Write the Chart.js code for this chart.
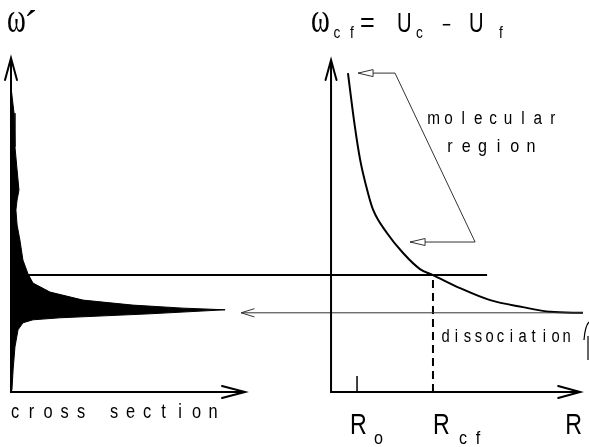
<!DOCTYPE html>
<html>
<head>
<meta charset="utf-8">
<script src="https://cdn.jsdelivr.net/npm/chart.js@4/dist/chart.umd.min.js"></script>
<style>
body { margin: 0; background: #fff; }
canvas { display: block; }
</style>
</head>
<body>
<canvas id="graphe" width="589" height="447"></canvas>
<script>
// ****************** donnees lues sur la figure ******************
// panneau gauche : section efficace en fonction de omega'
var sectionEfficace = [0, 0.13, 0.17, 0.26, 0.34, 0.26, 0.21, 0.26, 0.38, 0.51, 0.73, 0.94, 1.67, 3.08, 5.21, 7.35, 9.15, 5.94, 2.09, 0.94, 0.51, 0.30, 0.17, 0.09, 0.04, 0];
var omegaProfil     = [9.13, 8.35, 7.34, 6.65, 6.05, 5.75, 5.45, 5.00, 4.55, 3.95, 3.53, 3.26, 2.99, 2.75, 2.60, 2.51, 2.46, 2.34, 2.22, 2.16, 2.07, 1.86, 1.35, 0.66, 0.06, 0];

// panneau droit : omega_cf = U_c - U_f en fonction de R
var courbeR     = [0.65, 0.92, 1.12, 1.42, 1.62, 2.15, 2.77, 3.42, 3.92, 4.96, 6.12, 7.38, 8.42, 9.69];
var courbeOmega = [9.55, 7.93, 6.95, 5.96, 5.45, 4.76, 4.16, 3.68, 3.50, 3.11, 2.75, 2.54, 2.40, 2.37];

// niveaux horizontaux
var omegaNiveau = 3.50;
var niveauR = [-12.31, 6.0];
var omegaDissociation = 2.37;
var dissociationR = [-3.46, 9.69];

// graduations de l'axe R
var rTicks = [1, 3.92];
var rTickLabels = ["R", "R"];
var rTickSubs = ["o", "c f"];
var rAxisLabel = "R";

// etendue des axes
var axeSectionMax = 10;
var axeGaucheOmegaMax = 10;
var axeDroitOmegaMax = 9.94;
var axeRMax = 9.58;
var hauteurTickRo = 0.48;

// fleches de la region moleculaire
var annotR = [1.04, 2.46, 5.54, 3.04];
var annotOmega = [9.55, 9.55, 4.49, 4.49];

function points(xs, ys) {
    return xs.map(function (x, i) { return { x: x, y: ys[i] }; });
}

// ****************** petites fonctions de dessin ******************
function fleche(ctx, x, y, dx, dy, longueur, demi) {
    var bx = x - dx * longueur, by = y - dy * longueur;
    ctx.beginPath();
    ctx.moveTo(bx - dy * demi, by + dx * demi);
    ctx.lineTo(x, y);
    ctx.lineTo(bx + dy * demi, by - dx * demi);
    ctx.stroke();
}

function triangle(ctx, x, y, dx, dy, longueur, demi) {
    var bx = x - dx * longueur, by = y - dy * longueur;
    ctx.beginPath();
    ctx.moveTo(x, y);
    ctx.lineTo(bx - dy * demi, by + dx * demi);
    ctx.lineTo(bx + dy * demi, by - dx * demi);
    ctx.closePath();
    ctx.fillStyle = "#fff";
    ctx.fill();
    ctx.stroke();
}

function texteEspace(ctx, texte, x0, y, pas, police, sx) {
    ctx.font = police;
    ctx.textAlign = "center";
    for (var i = 0; i < texte.length; i++) {
        ctx.save();
        ctx.translate(x0 + i * pas, y);
        ctx.scale(sx, 1);
        ctx.fillText(texte[i], 0, 0);
        ctx.restore();
    }
}

function texte(ctx, t, x, y, police, sx) {
    ctx.font = police;
    ctx.textAlign = "left";
    ctx.save();
    ctx.translate(x, y);
    ctx.scale(sx, 1);
    ctx.fillText(t, 0, 0);
    ctx.restore();
}

var dessinPlugin = {
    id: "dessin",
    afterDatasetsDraw: function (chart) {
        var ctx = chart.ctx;
        var xL = chart.scales.xL, xR = chart.scales.xR, y = chart.scales.y;
        ctx.save();
        ctx.lineCap = "round";

        // pointes des axes
        ctx.strokeStyle = "#000";
        ctx.lineWidth = 2;
        fleche(ctx, xL.getPixelForValue(0), y.getPixelForValue(axeGaucheOmegaMax), 0, -1, 22, 6);
        fleche(ctx, xL.getPixelForValue(axeSectionMax), y.getPixelForValue(0), 1, 0, 23, 6);
        fleche(ctx, xR.getPixelForValue(0), y.getPixelForValue(axeDroitOmegaMax), 0, -1, 20, 5.5);
        fleche(ctx, xR.getPixelForValue(axeRMax), y.getPixelForValue(0), 1, 0, 22, 6);

        // fleche de dissociation
        ctx.lineWidth = 1;
        ctx.strokeStyle = "#333";
        fleche(ctx, xR.getPixelForValue(dissociationR[0]), y.getPixelForValue(omegaDissociation), -1, 0, 13, 4);

        // triangles ouverts de la region moleculaire
        ctx.lineCap = "butt";
        triangle(ctx, xR.getPixelForValue(annotR[0]), y.getPixelForValue(annotOmega[0]), -1, 0, 15, 3.5);
        triangle(ctx, xR.getPixelForValue(annotR[3]), y.getPixelForValue(annotOmega[3]), -1, 0, 15, 3.5);

        // petit crochet au bout de la dissociation
        ctx.strokeStyle = "#000";
        ctx.lineWidth = 1.2;
        ctx.beginPath();
        ctx.moveTo(584, 340);
        ctx.quadraticCurveTo(585, 326, 589, 322);
        ctx.moveTo(588, 336);
        ctx.lineTo(588, 360);
        ctx.stroke();

        // textes
        ctx.fillStyle = "#000";
        ctx.textBaseline = "alphabetic";
        var serif = "\"Liberation Serif\"";
        var sans = "\"Liberation Sans\"";

        texte(ctx, "ω", 7, 32, "42px " + serif, 0.68);
        texte(ctx, "´", 24, 38, "40px " + serif, 1);

        texte(ctx, "ω", 311, 32, "42px " + serif, 0.68);
        texteEspace(ctx, "cf", 337, 38, 15, "16px " + sans, 0.85);
        texte(ctx, "=", 360, 32, "28px " + sans, 0.9);
        texte(ctx, "U", 397, 32, "28px " + sans, 0.72);
        texte(ctx, "c", 416, 38, "16px " + sans, 0.85);
        texte(ctx, "−", 442, 32, "22px " + sans, 0.7);
        texte(ctx, "U", 469, 32, "28px " + sans, 0.72);
        texte(ctx, "f", 499, 38, "16px " + sans, 0.85);

        texteEspace(ctx, "cross section", 15, 418, 16.5, "21px " + sans, 0.78);
        texteEspace(ctx, "molecular", 433.5, 124, 14.9, "18px " + sans, 0.85);
        texteEspace(ctx, "region", 450, 152, 16.2, "19px " + sans, 0.85);
        texteEspace(ctx, "dissociation", 445.5, 342, 11, "18px " + sans, 0.82);

        // etiquettes de l'axe R
        var p0 = xR.getPixelForValue(rTicks[0]);
        var p1 = xR.getPixelForValue(rTicks[1]);
        texte(ctx, rTickLabels[0], p0 - 7, 434, "29px " + sans, 0.8);
        texte(ctx, rTickSubs[0], p0 + 17, 444, "19px " + sans, 0.85);
        texte(ctx, rTickLabels[1], p1, 434, "29px " + sans, 0.8);
        texteEspace(ctx, rTickSubs[1].replace(" ", ""), p1 + 30, 444, 15, "19px " + sans, 0.85);
        texte(ctx, rAxisLabel, xR.getPixelForValue(axeRMax) - 15, 434, "29px " + sans, 0.8);

        ctx.restore();
    }
};

// ****************** le graphique ******************
var ctx = document.getElementById("graphe").getContext("2d");

var graphe = new Chart(ctx, {
    type: "scatter",
    data: {
        datasets: [
            {   // profil noir de section efficace
                data: points(sectionEfficace, omegaProfil),
                xAxisID: "xL",
                showLine: true,
                fill: "shape",
                backgroundColor: "#000",
                borderColor: "#000",
                borderWidth: 1,
                pointRadius: 0
            },
            {   // axes du panneau gauche
                data: points([0, 0, axeSectionMax], [axeGaucheOmegaMax, 0, 0]),
                xAxisID: "xL",
                showLine: true,
                borderColor: "#000",
                borderWidth: 2,
                pointRadius: 0
            },
            {   // axes du panneau droit
                data: points([0, 0, axeRMax], [axeDroitOmegaMax, 0, 0]),
                xAxisID: "xR",
                showLine: true,
                borderColor: "#000",
                borderWidth: 2,
                pointRadius: 0
            },
            {   // niveau omega'
                data: points(niveauR, [omegaNiveau, omegaNiveau]),
                xAxisID: "xR",
                showLine: true,
                borderColor: "#000",
                borderWidth: 2,
                pointRadius: 0
            },
            {   // limite de dissociation
                data: points(dissociationR, [omegaDissociation, omegaDissociation]),
                xAxisID: "xR",
                showLine: true,
                borderColor: "#333",
                borderWidth: 1,
                pointRadius: 0
            },
            {   // courbe omega_cf(R)
                data: points(courbeR, courbeOmega),
                xAxisID: "xR",
                showLine: true,
                borderColor: "#000",
                borderWidth: 2,
                cubicInterpolationMode: "monotone",
                pointRadius: 0
            },
            {   // pointilles a R_cf
                data: points([rTicks[1], rTicks[1]], [0, omegaNiveau]),
                xAxisID: "xR",
                showLine: true,
                borderColor: "#000",
                borderWidth: 2,
                borderDash: [8, 5],
                pointRadius: 0
            },
            {   // petite graduation R_o
                data: points([rTicks[0], rTicks[0]], [0, hauteurTickRo]),
                xAxisID: "xR",
                showLine: true,
                borderColor: "#000",
                borderWidth: 1.5,
                pointRadius: 0
            },
            {   // trait de la region moleculaire
                data: points(annotR, annotOmega),
                xAxisID: "xR",
                showLine: true,
                borderColor: "#333",
                borderWidth: 1,
                pointRadius: 0
            }
        ]
    },
    options: {
        responsive: false,
        devicePixelRatio: 1,
        animation: false,
        layout: { padding: 0 },
        plugins: { legend: { display: false }, tooltip: { enabled: false } },
        scales: {
            xL: { type: "linear", display: false, min: -0.47, max: 24.7 },
            xR: { type: "linear", display: false, min: -12.73, max: 9.92 },
            y: { type: "linear", display: false, min: -1.65, max: 11.74 }
        }
    },
    plugins: [dessinPlugin]
});
</script>
</body>
</html>
